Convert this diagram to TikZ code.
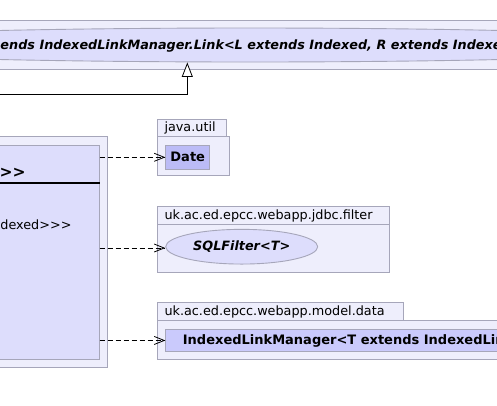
\documentclass[tikz,border=0pt]{standalone}
\usepackage{fontspec}
\setmainfont{DejaVu Sans}[Ligatures=TeXOff]
\usetikzlibrary{arrows.meta,shapes.geometric}
\definecolor{pkgfill}{HTML}{EEEEFC}
\definecolor{pkgline}{HTML}{A6A6BA}
\definecolor{clsfill}{HTML}{DDDDFC}
\definecolor{datefill}{HTML}{BBBBF6}
\definecolor{ilmfill}{HTML}{CACAFC}
\tikzset{
  pkg/.style={draw=pkgline, fill=pkgfill, line width=0.9pt},
  clsbox/.style={draw=pkgline, fill=clsfill, line width=0.9pt, inner sep=0pt},
  lbl/.style={anchor=base west, inner sep=0pt, font=\fontsize{12.8}{15}\selectfont},
  dep/.style={draw=black, line width=0.8pt, dash pattern=on 5pt off 3pt, -{Straight Barb[length=10pt,width=8pt]}},
  inh/.style={draw=black, line width=0.8pt, -{Triangle[length=14.5pt,width=11pt,fill=white]}},
}
\begin{document}
\begin{tikzpicture}[x=1pt,y=-1pt]
\useasboundingbox (0,0) rectangle (497,405);
\clip (0,0) rectangle (497,405);

% top package with the ellipse class
\path[pkg] (-10,20.5) rectangle (520,69);
\node[draw=pkgline, fill=clsfill, line width=0.9pt, ellipse, inner sep=0pt,
      minimum width=960pt, minimum height=34pt] (topcls) at (250,45) {};
\node[lbl, font=\bfseries\itshape\fontsize{12.8}{15}\selectfont] (toptxt) at (0.3,49)
  {ends IndexedLinkManager.Link<L extends Indexed, R extends Indexed};

% left package with class
\path[pkg] (-10,136) rectangle (107.3,367.3);
\node[clsbox, minimum width=109.5pt, minimum height=214.3pt, anchor=north east] (lcls) at (99.5,145) {};
\draw[line width=2pt] (lcls.west |- 0,183) -- (lcls.east |- 0,183);
\node[anchor=base west, inner sep=0pt, font=\bfseries\fontsize{15.5}{18}\selectfont] (lname) at (-0.5,177) {>>};
\node[anchor=base west, inner sep=0pt, font=\fontsize{12.8}{15}\selectfont] (lattr) at (0.2,229.5) {dexed>>>};

% java.util
\path[pkg] (157.3,119.3) rectangle (226,136);
\path[pkg] (157.3,136) rectangle (229.3,175.7);
\node[lbl] (jutil) at (164.3,131) {java.util};
\node[draw=pkgline, fill=datefill, line width=0.9pt, inner sep=0pt, anchor=north west,
      minimum width=44pt, minimum height=23.7pt, font=\bfseries\fontsize{13}{15}\selectfont] (date) at (165.3,145) {Date};

% jdbc.filter
\path[pkg] (157.3,206.7) rectangle (389,224.3);
\path[pkg] (157.3,224.3) rectangle (389,272.3);
\node[lbl] (jdbc) at (164.3,219.2) {uk.ac.ed.epcc.webapp.jdbc.filter};
\node[draw=pkgline, fill=clsfill, line width=0.9pt, ellipse, inner sep=0pt,
      minimum width=152pt, minimum height=34.7pt, font=\bfseries\itshape\fontsize{12.8}{15}\selectfont] (sqlf) at (241.7,246.7) {SQLFilter<T>};

% model.data
\path[pkg] (157.3,302.3) rectangle (403.3,320.3);
\path[pkg] (157.3,320.3) rectangle (520,359.3);
\node[lbl] (mdata) at (164.3,315.4) {uk.ac.ed.epcc.webapp.model.data};
\node[draw=pkgline, fill=ilmfill, line width=0.9pt, inner sep=0pt, anchor=north west,
      minimum width=360pt, minimum height=22.6pt] (ilm) at (165.3,328.7) {};
\node[lbl, font=\bfseries\fontsize{13}{15}\selectfont] (ilmtxt) at (182.7,344.2)
  {IndexedLinkManager<T extends IndexedLink};

% connectors
\draw[dep] (lcls.east |- date.west) -- (date.west);
\draw[dep] (lcls.east |- 0,248) -- (sqlf.west |- 0,248);
\draw[dep] (lcls.east |- ilm.west) -- (ilm.west);

\coordinate (inhA) at (-2,94);
\coordinate (inhB) at (187.3,94);
\draw[inh] (inhA) -- (inhB) -- (inhB |- topcls.south);
\end{tikzpicture}
\end{document}
